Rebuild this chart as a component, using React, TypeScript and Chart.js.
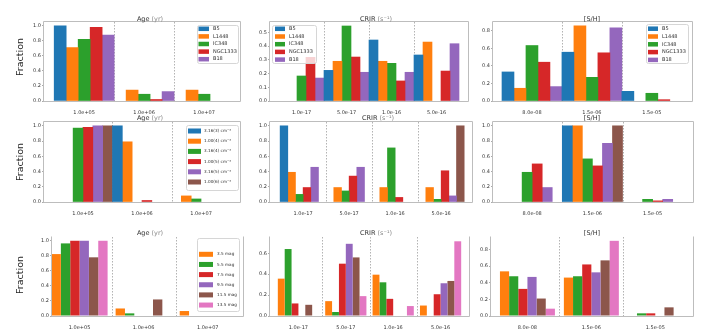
import React, { useEffect, useRef } from 'react';
import { Chart, registerables } from 'chart.js';
Chart.register(...registerables);
Chart.defaults.font.family = "'DejaVu Sans', sans-serif";

// ---------- data ----------
const AGE_CATS = ['1.0e+05', '1.0e+06', '1.0e+07'];
const CRIR_CATS = ['1.0e-17', '5.0e-17', '1.0e-16', '5.0e-16'];
const SH_CATS = ['8.0e-08', '1.5e-06', '1.5e-05'];

const BLUE = '#1f77b4', ORANGE = '#ff7f0e', GREEN = '#2ca02c', RED = '#d62728', PURPLE = '#9467bd', BROWN = '#8c564b', PINK = '#e377c2';

const CLOUD_LABELS = ['B5', 'L1448', 'IC348', 'NGC1333', 'B18'];
const CLOUD_COLORS = [BLUE, ORANGE, GREEN, RED, PURPLE];
const cloudAge = [[1.0, 0, 0], [0.71, 0.145, 0.145], [0.82, 0.09, 0.09], [0.98, 0.02, 0], [0.875, 0.125, 0]];
const cloudCrir = [[0, 0.223, 0.444, 0.335], [0, 0.289, 0.289, 0.429], [0.182, 0.546, 0.274, 0], [0.318, 0.32, 0.146, 0.218], [0.167, 0.209, 0.209, 0.417]];
const cloudSh = [[0.331, 0.556, 0.11], [0.145, 0.857, 0], [0.632, 0.27, 0.088], [0.442, 0.549, 0.015], [0.164, 0.834, 0]];

const DENS_LABELS = ['3.16(3) cm⁻³', '1.00(4) cm⁻³', '3.16(4) cm⁻³', '1.00(5) cm⁻³', '3.16(5) cm⁻³', '1.00(6) cm⁻³'];
const DENS_COLORS = [BLUE, ORANGE, GREEN, RED, PURPLE, BROWN];
const densAge = [[0, 1, 0], [0, 0.79, 0.08], [0.97, 0, 0.04], [0.98, 0.02, 0], [1, 0, 0], [1, 0, 0]];
const densCrir = [[1, 0, 0, 0], [0.39, 0.19, 0.19, 0.19], [0.1, 0.145, 0.71, 0.035], [0.19, 0.34, 0.06, 0.41], [0.456, 0.456, 0, 0.08], [0, 0, 0, 1]];
const densSh = [[0, 1, 0], [0, 1, 0], [0.39, 0.566, 0.035], [0.5, 0.474, 0.015], [0.19, 0.77, 0.035], [0, 1, 0]];

const EXT_LABELS = ['3.5 mag', '5.5 mag', '7.5 mag', '9.5 mag', '11.5 mag', '13.5 mag'];
const EXT_COLORS = [ORANGE, GREEN, RED, PURPLE, BROWN, PINK];
const extAge = [[0.823, 0.1, 0.066], [0.965, 0.035, 0], [1, 0, 0], [1, 0, 0], [0.78, 0.22, 0], [1, 0, 0]];
const extCrir = [[0.357, 0.142, 0.395, 0.1], [0.64, 0.038, 0.322, 0], [0.12, 0.5, 0.164, 0.208], [0, 0.69, 0, 0.313], [0.107, 0.56, 0, 0.335], [0, 0.19, 0.095, 0.714]];
const extSh = [[0.537, 0.462, 0], [0.478, 0.478, 0.032], [0.326, 0.62, 0.032], [0.47, 0.525, 0], [0.21, 0.669, 0.104], [0.088, 0.904, 0]];

const TICKS_10 = [0, 0.2, 0.4, 0.6, 0.8, 1.0];
const TICKS_05 = [0, 0.1, 0.2, 0.3, 0.4, 0.5];
const TICKS_08 = [0, 0.2, 0.4, 0.6, 0.8];
const TICKS_06 = [0, 0.2, 0.4, 0.6];

const AGE_TITLE: [string, string] = ['Age', ' (yr)'];
const CRIR_TITLE: [string, string] = ['CRIR', ' (s⁻¹)'];
const SH_TITLE: [string, string] = ['[S/H]', ''];

// ---------- layout ----------
type Legend = { x: number; y: number; w: number; h: number; first: number; step: number; patchDx: number; patchW: number; patchH: number; textDx: number; font: number };
type Frame = { top: boolean; right: boolean; left: boolean; bottom: boolean };
type PanelSpec = {
  L: number; T: number; R: number; B: number; canvasX: number;
  xMin: number; xMax: number; catPct: number; yMax: number; yTicks: number[];
  cats: string[]; labels: string[]; colors: string[]; values: number[][];
  title: [string, string]; titleX: number; titleY: number;
  legend?: Legend; frame: Frame; fractionY?: number;
};

const FULL: Frame = { top: true, right: true, left: true, bottom: true };
const OPEN: Frame = { top: false, right: true, left: true, bottom: true };

const PANELS: PanelSpec[] = [
  { L: 44, T: 22, R: 240, B: 101, canvasX: 0, xMin: -0.67, xMax: 2.6, catPct: 1, yMax: 1.05, yTicks: TICKS_10,
    cats: AGE_CATS, labels: CLOUD_LABELS, colors: CLOUD_COLORS, values: cloudAge, title: AGE_TITLE, titleX: 150, titleY: 19,
    legend: { x: 197, y: 25, w: 41, h: 38, first: 28.8, step: 7.6, patchDx: 1.5, patchW: 10.5, patchH: 4.5, textDx: 16, font: 5 },
    frame: FULL, fractionY: 57 },
  { L: 270, T: 22, R: 468, B: 101, canvasX: 240, xMin: -0.7, xMax: 3.7, catPct: 1, yMax: 0.575, yTicks: TICKS_05,
    cats: CRIR_CATS, labels: CLOUD_LABELS, colors: CLOUD_COLORS, values: cloudCrir, title: CRIR_TITLE, titleX: 376, titleY: 19,
    legend: { x: 272, y: 25, w: 44, h: 38, first: 28.8, step: 7.7, patchDx: 3, patchW: 10, patchH: 4.5, textDx: 17, font: 5 },
    frame: FULL },
  { L: 493, T: 22, R: 692, B: 101, canvasX: 463, xMin: -0.65, xMax: 2.67, catPct: 1, yMax: 0.9, yTicks: TICKS_08,
    cats: SH_CATS, labels: CLOUD_LABELS, colors: CLOUD_COLORS, values: cloudSh, title: SH_TITLE, titleX: 592, titleY: 19,
    legend: { x: 646, y: 24, w: 42, h: 39, first: 28.7, step: 7.8, patchDx: 2, patchW: 10, patchH: 4.5, textDx: 16, font: 5 },
    frame: FULL },

  { L: 44, T: 122, R: 240, B: 202, canvasX: 0, xMin: -0.66, xMax: 2.66, catPct: 1, yMax: 1.05, yTicks: TICKS_10,
    cats: AGE_CATS, labels: DENS_LABELS, colors: DENS_COLORS, values: densAge, title: AGE_TITLE, titleX: 150, titleY: 118,
    legend: { x: 186, y: 125, w: 52, h: 65, first: 131, step: 10.2, patchDx: 2, patchW: 13, patchH: 5, textDx: 18, font: 4.2 },
    frame: FULL, fractionY: 162 },
  { L: 270, T: 122, R: 472, B: 202, canvasX: 240, xMin: -0.72, xMax: 3.67, catPct: 1, yMax: 1.05, yTicks: TICKS_10,
    cats: CRIR_CATS, labels: DENS_LABELS, colors: DENS_COLORS, values: densCrir, title: CRIR_TITLE, titleX: 378, titleY: 118,
    frame: FULL },
  { L: 493, T: 122, R: 693, B: 202, canvasX: 463, xMin: -0.65, xMax: 2.67, catPct: 1, yMax: 1.05, yTicks: TICKS_10,
    cats: SH_CATS, labels: DENS_LABELS, colors: DENS_COLORS, values: densSh, title: SH_TITLE, titleX: 592, titleY: 118,
    frame: FULL },

  { L: 52, T: 237, R: 243, B: 316, canvasX: 0, xMin: -0.43, xMax: 2.55, catPct: 0.875, yMax: 1.05, yTicks: TICKS_10,
    cats: AGE_CATS, labels: EXT_LABELS, colors: EXT_COLORS, values: extAge, title: AGE_TITLE, titleX: 150, titleY: 233,
    legend: { x: 197, y: 238, w: 42, h: 73, first: 254.3, step: 10.15, patchDx: 2, patchW: 14, patchH: 5, textDx: 20, font: 4.2 },
    frame: OPEN, fractionY: 275 },
  { L: 270, T: 237, R: 469, B: 316, canvasX: 240, xMin: -0.6, xMax: 3.6, catPct: 0.87, yMax: 0.755, yTicks: TICKS_06,
    cats: CRIR_CATS, labels: EXT_LABELS, colors: EXT_COLORS, values: extCrir, title: CRIR_TITLE, titleX: 376, titleY: 233,
    frame: OPEN },
  { L: 491, T: 237, R: 693, B: 316, canvasX: 461, xMin: -0.57, xMax: 2.59, catPct: 0.86, yMax: 0.95, yTicks: TICKS_08,
    cats: SH_CATS, labels: EXT_LABELS, colors: EXT_COLORS, values: extSh, title: SH_TITLE, titleX: 592, titleY: 233,
    frame: OPEN },
];

function decor(p: PanelSpec, cx: number, cy: number) {
  return {
    id: 'decor',
    beforeDatasetsDraw(chart: any) {
      const ctx = chart.ctx; const a = chart.chartArea; const xs = chart.scales.x;
      ctx.save();
      ctx.strokeStyle = '#a0a0a0'; ctx.lineWidth = 0.8; ctx.setLineDash([1.5, 1.5]);
      for (let i = 0; i < p.cats.length - 1; i++) {
        const px = Math.round(xs.getPixelForValue(i + 0.5)) + 0.5;
        ctx.beginPath(); ctx.moveTo(px, a.top); ctx.lineTo(px, a.bottom); ctx.stroke();
      }
      ctx.restore();
    },
    afterDatasetsDraw(chart: any) {
      const ctx = chart.ctx; const a = chart.chartArea;
      ctx.save();
      ctx.setLineDash([]);
      ctx.strokeStyle = '#bdbdbd'; ctx.lineWidth = 1;
      const l = Math.round(a.left) - 0.5, r = Math.round(a.right) + 0.5, t = Math.round(a.top) - 0.5, b = Math.round(a.bottom) + 0.5;
      const line = (x1: number, y1: number, x2: number, y2: number) => { ctx.beginPath(); ctx.moveTo(x1, y1); ctx.lineTo(x2, y2); ctx.stroke(); };
      if (p.frame.top) line(l, t, r, t);
      if (p.frame.bottom) line(l, b, r, b);
      if (p.frame.left) line(l, t, l, b);
      if (p.frame.right) line(r, t, r, b);

      if (p.legend) {
        const g = p.legend;
        const x = g.x - cx, y = g.y - cy;
        ctx.fillStyle = 'rgba(255,255,255,0.8)';
        ctx.strokeStyle = '#d6d6d6';
        ctx.beginPath();
        if ((ctx as any).roundRect) (ctx as any).roundRect(x + 0.5, y + 0.5, g.w, g.h, 2); else ctx.rect(x + 0.5, y + 0.5, g.w, g.h);
        ctx.fill(); ctx.stroke();
        ctx.font = `${g.font}px 'DejaVu Sans', sans-serif`;
        ctx.textBaseline = 'middle'; ctx.textAlign = 'left';
        p.labels.forEach((lab, i) => {
          const ey = g.first + i * g.step - cy;
          ctx.fillStyle = p.colors[i];
          ctx.fillRect(x + g.patchDx, ey - g.patchH / 2, g.patchW, g.patchH);
          ctx.fillStyle = '#333';
          ctx.fillText(lab, x + g.textDx, ey);
        });
      }

      ctx.font = `6.5px 'DejaVu Sans', sans-serif`;
      ctx.textBaseline = 'middle'; ctx.textAlign = 'left';
      const w1 = ctx.measureText(p.title[0]).width;
      const w2 = p.title[1] ? ctx.measureText(p.title[1]).width : 0;
      const x0 = p.titleX - cx - (w1 + w2) / 2;
      ctx.fillStyle = '#333';
      ctx.fillText(p.title[0], x0, p.titleY - cy);
      if (p.title[1]) { ctx.fillStyle = '#8a8a8a'; ctx.fillText(p.title[1], x0 + w1, p.titleY - cy); }

      if (p.fractionY !== undefined) {
        ctx.save();
        ctx.translate(21 - cx, p.fractionY - cy);
        ctx.rotate(-Math.PI / 2);
        ctx.font = `9.5px 'DejaVu Sans', sans-serif`;
        ctx.textAlign = 'center'; ctx.textBaseline = 'middle';
        ctx.fillStyle = '#222';
        ctx.fillText('Fraction', 0, 0);
        ctx.restore();
      }
      ctx.restore();
    },
  };
}

function Panel({ p }: { p: PanelSpec }) {
  const ref = useRef<HTMLCanvasElement>(null);
  const cx = p.canvasX, cy = p.T - 16;
  const cw = p.R + 6 - cx, ch = p.B + 14 - cy;
  useEffect(() => {
    const chart = new Chart(ref.current as HTMLCanvasElement, {
      type: 'bar',
      data: {
        datasets: p.labels.map((lab, i) => ({
          label: lab,
          data: p.values[i].map((v, j) => ({ x: j, y: v === 0 ? null : v })),
          backgroundColor: p.colors[i],
          borderWidth: 0,
          categoryPercentage: p.catPct,
          barPercentage: 1,
        })),
      },
      options: {
        responsive: false,
        animation: false,
        devicePixelRatio: 1,
        layout: { padding: { left: 0, top: p.T - cy, right: cx + cw - p.R, bottom: 0 } },
        plugins: { legend: { display: false }, tooltip: { enabled: false }, title: { display: false } },
        scales: {
          x: {
            type: 'linear', min: p.xMin, max: p.xMax, offset: false,
            grid: { display: false, offset: false }, border: { display: false },
            afterBuildTicks: (s: any) => { s.ticks = p.cats.map((_, i) => ({ value: i })); },
            afterFit: (s: any) => { s.height = cy + ch - p.B; },
            ticks: { autoSkip: false, maxRotation: 0, minRotation: 0, padding: 1, color: '#333', font: { size: 5 },
              callback: (v: any) => p.cats[Math.round(v)] ?? '' },
          },
          y: {
            type: 'linear', min: 0, max: p.yMax,
            grid: { display: true, drawOnChartArea: false, drawTicks: true, tickLength: 2, color: '#aaa' },
            border: { display: false },
            afterBuildTicks: (s: any) => { s.ticks = p.yTicks.map((v) => ({ value: v })); },
            afterFit: (s: any) => { s.width = p.L - cx; },
            ticks: { padding: 1, color: '#333', font: { size: 5 }, callback: (v: any) => Number(v).toFixed(1) },
          },
        },
      } as any,
      plugins: [decor(p, cx, cy) as any],
    });
    return () => chart.destroy();
  }, []);
  return <canvas ref={ref} width={cw} height={ch} style={{ position: 'absolute', left: cx, top: cy, width: cw, height: ch }} />;
}

export default function App() {
  return (
    <div style={{ position: 'fixed', left: 0, top: 0, width: 717, height: 333, background: '#fff', overflow: 'hidden' }}>
      {PANELS.map((p, i) => <Panel key={i} p={p} />)}
    </div>
  );
}
